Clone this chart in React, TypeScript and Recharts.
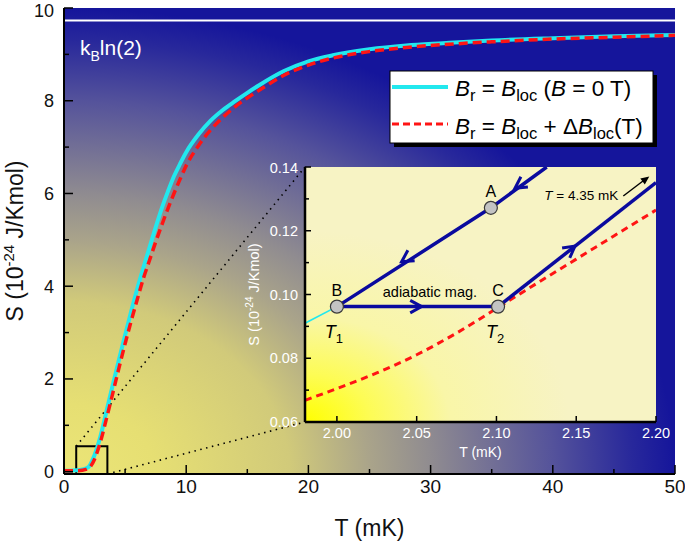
import {
  ComposedChart,
  Line,
  Scatter,
  XAxis,
  YAxis,
  CartesianGrid,
  ReferenceLine,
  ReferenceArea,
  ReferenceDot,
} from "recharts"

const FONT = '"Liberation Sans", Arial, Helvetica, sans-serif'
const CYAN = "#22e8ee"
const RED = "#ff1414"
const NAVY = "#0a0a9e"

// ---- main panel: S(T) ----
const T_MAIN = [0, 0.5, 1, 1.5, 2, 2.5, 3, 3.5, 4, 4.5, 5, 5.5, 6, 6.5, 7, 7.5, 8, 8.5, 9, 9.5, 10, 11, 12, 13, 14, 15, 16, 18, 20, 22, 25, 28, 31, 35, 40, 45, 50]
const S_ZERO_FIELD = [0.02, 0.02, 0.03, 0.05, 0.1, 0.36, 0.78, 1.33, 1.88, 2.42, 2.94, 3.46, 3.95, 4.4, 4.84, 5.27, 5.68, 6.04, 6.37, 6.64, 6.89, 7.27, 7.57, 7.8, 7.99, 8.17, 8.34, 8.64, 8.85, 8.98, 9.11, 9.19, 9.24, 9.3, 9.35, 9.39, 9.42]
const S_LOC_FIELD = [0.02, 0.02, 0.02, 0.03, 0.07, 0.27, 0.66, 1.17, 1.7, 2.24, 2.76, 3.25, 3.72, 4.17, 4.56, 4.95, 5.32, 5.67, 6.0, 6.31, 6.6, 7.03, 7.37, 7.64, 7.87, 8.06, 8.23, 8.55, 8.77, 8.92, 9.06, 9.15, 9.21, 9.27, 9.33, 9.37, 9.41]
const S_KB_LN2 = 9.73
const T_TICKS = [0, 5, 10, 15, 20, 25, 30, 35, 40, 45, 50]
const S_TICKS = [0, 1, 2, 3, 4, 5, 6, 7, 8, 9, 10]
const ZOOM_BOX_T = [1.0, 3.55]
const ZOOM_BOX_S = [-0.05, 0.55]

// ---- inset: the cooling cycle ----
const T_INSET_CYAN = [1.98, 2.0]
const S_INSET_CYAN = [0.091, 0.0962]
const T_INSET_RED = [1.98, 2.0, 2.025, 2.05, 2.075, 2.1, 2.125, 2.15, 2.175, 2.2]
const S_INSET_RED = [0.0668, 0.0705, 0.0754, 0.0811, 0.0879, 0.0956, 0.1034, 0.1111, 0.1188, 0.1265]
const T_PATH_BA = [2.0, 2.0965, 2.1315]
const S_PATH_BA = [0.0962, 0.1272, 0.14]
const T_PATH_BC = [2.0, 2.101]
const S_PATH_BC = [0.0962, 0.0962]
const T_PATH_CD = [2.101, 2.2]
const S_PATH_CD = [0.0962, 0.1351]
const POINT_NAMES = ["B", "A", "C"]
const POINT_T = [2.0, 2.0965, 2.101]
const POINT_S = [0.0962, 0.1272, 0.0962]
const POINT_SUBS = ["1", "", "2"]
const ARROW_T = [2.0406, 2.1116, 2.0531, 2.1492]
const ARROW_S = [0.1103, 0.1333, 0.0962, 0.1152]
const ARROW_DT = [-1, -1, 1, 1]
const ARROW_DS = [-0.325, -0.34, 0, 0.387]
const T_INSET_TICKS = [2.0, 2.05, 2.1, 2.15, 2.2]
const S_INSET_TICKS = [0.06, 0.07, 0.08, 0.09, 0.1, 0.11, 0.12, 0.13, 0.14]
const T_DOMAIN_INSET = [1.98, 2.2]
const S_DOMAIN_INSET = [0.06, 0.14]

// layout (pixels)
const MAIN = { left: 64, top: 8, width: 611, height: 466 }
const INSET = { left: 305, top: 167, width: 351, height: 255 }
const T_DOMAIN_MAIN = [0, 50]
const S_DOMAIN_MAIN = [-0.05, 10]

const zip = (ts: number[], ss: number[]) => ts.map((T, i) => ({ T, S: ss[i] }))

// pixel -> main data coords (for the connector lines to the inset)
const pxToMain = (px: number, py: number) => ({
  x: T_DOMAIN_MAIN[0] + ((px - MAIN.left) / MAIN.width) * (T_DOMAIN_MAIN[1] - T_DOMAIN_MAIN[0]),
  y: S_DOMAIN_MAIN[0] + ((MAIN.top + MAIN.height - py) / MAIN.height) * (S_DOMAIN_MAIN[1] - S_DOMAIN_MAIN[0]),
})
const KX = INSET.width / (T_DOMAIN_INSET[1] - T_DOMAIN_INSET[0])
const KY = INSET.height / (S_DOMAIN_INSET[1] - S_DOMAIN_INSET[0])

type Side = "bottom" | "top" | "left" | "right"
function makeTick(side: Side, o: { major: (v: number) => boolean; long: number; short: number; sw: number; fmt?: (v: number) => string; fs?: number; color?: string; gap?: number }) {
  return (props: any) => {
    const { x, y, payload } = props
    const v = payload.value
    const maj = o.major(v)
    const len = maj ? o.long : o.short
    let x2 = x
    let y2 = y
    if (side === "bottom") y2 = y - len
    if (side === "top") y2 = y + len
    if (side === "left") x2 = x + len
    if (side === "right") x2 = x - len
    let label = null
    if (o.fmt && maj) {
      const fs = o.fs || 0
      label =
        side === "bottom" ? (
          <text x={x} y={y + (o.gap || 0)} textAnchor="middle" fontSize={fs} fill={o.color} fontFamily={FONT}>
            {o.fmt(v)}
          </text>
        ) : (
          // keep the topmost label inside the page
          <text x={x - (o.gap || 0)} y={Math.max(y + fs * 0.36, fs * 0.92)} textAnchor="end" fontSize={fs} fill={o.color} fontFamily={FONT}>
            {o.fmt(v)}
          </text>
        )
    }
    return (
      <g>
        <line x1={x} y1={y} x2={x2} y2={y2} stroke="#000" strokeWidth={o.sw} />
        {label}
      </g>
    )
  }
}

const majT = (v: number) => Math.round(v) % 10 === 0
const majS = (v: number) => Math.round(v) % 2 === 0
const mainBottom = makeTick("bottom", { major: majT, long: 9, short: 5, sw: 1.5, fmt: (v) => String(v), fs: 19, color: "#111", gap: 19 })
const mainTop = makeTick("top", { major: majT, long: 9, short: 5, sw: 1.5 })
const mainLeft = makeTick("left", { major: majS, long: 9, short: 5, sw: 1.5, fmt: (v) => String(v), fs: 18, color: "#111", gap: 10 })
const mainRight = makeTick("right", { major: majS, long: 9, short: 5, sw: 1.5 })

const allMaj = () => true
const majSI = (v: number) => Math.round(v * 100) % 2 === 0
const insetBottom = makeTick("bottom", { major: allMaj, long: 6, short: 6, sw: 1.5, fmt: (v) => v.toFixed(2), fs: 14.5, color: "#fff", gap: 16 })
const insetTop = makeTick("top", { major: allMaj, long: 6, short: 6, sw: 1.5 })
const insetLeft = makeTick("left", { major: majSI, long: 6, short: 4, sw: 1.5, fmt: (v) => v.toFixed(2), fs: 14.5, color: "#fff", gap: 7 })
const insetRight = makeTick("right", { major: majSI, long: 6, short: 4, sw: 1.5 })

const PointMark = (p: any) => {
  const { cx, cy, payload } = p
  return (
    <g fontFamily={FONT}>
      <circle cx={cx} cy={cy} r={6.5} fill="#c3c3c3" stroke="#3a3a3a" strokeWidth={1.2} />
      <text x={cx} y={cy - 10.5} textAnchor="middle" fontSize={16} fill="#000">
        {payload.name}
      </text>
      {payload.sub ? (
        <text x={cx - 3} y={cy + 31.5} textAnchor="middle" fontSize={18} fill="#000" fontStyle="italic">
          T
          <tspan fontSize={13} dy={5} fontStyle="normal">
            {payload.sub}
          </tspan>
        </text>
      ) : null}
    </g>
  )
}

const Chevron = (p: any) => {
  const { cx, cy, payload } = p
  const ang = Math.atan2(-payload.dS * KY, payload.dT * KX)
  const L = 13
  const spread = 0.5
  const back = ang + Math.PI
  const w1 = [cx + L * Math.cos(back - spread), cy + L * Math.sin(back - spread)]
  const w2 = [cx + L * Math.cos(back + spread), cy + L * Math.sin(back + spread)]
  return <polyline points={`${w1[0]},${w1[1]} ${cx},${cy} ${w2[0]},${w2[1]}`} fill="none" stroke={NAVY} strokeWidth={3} strokeLinejoin="miter" />
}

export default function App() {
  const mainCyan = zip(T_MAIN, S_ZERO_FIELD)
  const mainRed = zip(T_MAIN, S_LOC_FIELD)
  const insetCyan = zip(T_INSET_CYAN, S_INSET_CYAN)
  const insetRed = zip(T_INSET_RED, S_INSET_RED)
  const pathBA = zip(T_PATH_BA, S_PATH_BA)
  const pathBC = zip(T_PATH_BC, S_PATH_BC)
  const pathCD = zip(T_PATH_CD, S_PATH_CD)
  const points = POINT_NAMES.map((name, i) => ({ name, T: POINT_T[i], S: POINT_S[i], sub: POINT_SUBS[i] }))
  const arrows = ARROW_T.map((T, i) => ({ T, S: ARROW_S[i], dT: ARROW_DT[i], dS: ARROW_DS[i] }))

  const cTop = pxToMain(INSET.left, INSET.top)
  const cBot = pxToMain(INSET.left, INSET.top + INSET.height)

  const frame = { stroke: "#000", strokeWidth: 2 }
  const iframe = { stroke: "#000", strokeWidth: 2.5 }
  const sub = 16.5

  return (
    <div style={{ position: "absolute", left: 0, top: 0, width: 685, height: 542, fontFamily: FONT, background: "#fff" }}>
      <div style={{ position: "absolute", left: 0, top: 0 }}>
        <ComposedChart width={685} height={542} margin={{ top: 8, right: 10, left: 0, bottom: 0 }}>
          <defs>
            <radialGradient id="mainBg" cx="0" cy="1" r="1" fx="0" fy="1">
              <stop offset="0" stopColor="#ebe577" />
              <stop offset="0.15" stopColor="#e6df73" />
              <stop offset="0.37" stopColor="#d1ca7a" />
              <stop offset="0.5" stopColor="#aaa48a" />
              <stop offset="0.6" stopColor="#908c90" />
              <stop offset="0.8" stopColor="#55539b" />
              <stop offset="0.93" stopColor="#28289b" />
              <stop offset="1" stopColor="#15159b" />
            </radialGradient>
          </defs>
          <CartesianGrid horizontal={false} vertical={false} fill="url(#mainBg)" />
          <XAxis type="number" dataKey="T" domain={T_DOMAIN_MAIN} ticks={T_TICKS} interval={0} height={68} tickSize={0} tickMargin={0} tickLine={false} axisLine={frame} tick={mainBottom} allowDataOverflow />
          <XAxis xAxisId="top" orientation="top" type="number" domain={T_DOMAIN_MAIN} ticks={T_TICKS} interval={0} height={0} tickSize={0} tickMargin={0} tickLine={false} axisLine={frame} tick={mainTop} allowDataOverflow />
          <YAxis type="number" dataKey="S" domain={S_DOMAIN_MAIN} ticks={S_TICKS} interval={0} width={64} tickSize={0} tickMargin={0} tickLine={false} axisLine={frame} tick={mainLeft} allowDataOverflow />
          <YAxis yAxisId="right" orientation="right" type="number" domain={S_DOMAIN_MAIN} ticks={S_TICKS} interval={0} width={0} tickSize={0} tickMargin={0} tickLine={false} axisLine={frame} tick={mainRight} allowDataOverflow />

          <ReferenceLine y={S_KB_LN2} stroke="#fff" strokeWidth={2} />
          <ReferenceLine segment={[{ x: ZOOM_BOX_T[0], y: ZOOM_BOX_S[1] }, cTop]} stroke="#000" strokeWidth={1.6} strokeDasharray="1.5 4.5" />
          <ReferenceLine segment={[{ x: ZOOM_BOX_T[1], y: ZOOM_BOX_S[0] }, cBot]} stroke="#000" strokeWidth={1.6} strokeDasharray="1.5 4.5" />

          <Line data={mainCyan} dataKey="S" type="monotone" stroke={CYAN} strokeWidth={4} dot={false} isAnimationActive={false} />
          <Line data={mainRed} dataKey="S" type="monotone" stroke={RED} strokeWidth={3.5} strokeDasharray="9 5" dot={false} isAnimationActive={false} />

          <ReferenceArea x1={ZOOM_BOX_T[0]} x2={ZOOM_BOX_T[1]} y1={ZOOM_BOX_S[0]} y2={ZOOM_BOX_S[1]} fill="none" stroke="#000" strokeWidth={2} />

          <text x={80} y={55} fontSize={21} fill="#fff" fontFamily={FONT}>
            k
            <tspan fontSize={14} dy={6}>
              B
            </tspan>
            <tspan dy={-6}>ln(2)</tspan>
          </text>

          {/* legend */}
          <rect x={394} y={75} width={263} height={72} fill="#000" />
          <rect x={390} y={71} width={263} height={72} fill="#fff" stroke="#000" strokeWidth={1} />
          <line x1={392} x2={448} y1={87} y2={87} stroke={CYAN} strokeWidth={4} />
          <line x1={392} x2={448} y1={124} y2={124} stroke={RED} strokeWidth={3} strokeDasharray="7 4" />
          <text x={455} y={96} fontSize={22.5} fill="#000" fontFamily={FONT}>
            <tspan fontStyle="italic">B</tspan>
            <tspan fontSize={sub} dy={5}>r</tspan>
            <tspan dy={-5}> = </tspan>
            <tspan fontStyle="italic">B</tspan>
            <tspan fontSize={sub} dy={5}>loc</tspan>
            <tspan dy={-5}> (</tspan>
            <tspan fontStyle="italic">B</tspan>
            <tspan> = 0 T)</tspan>
          </text>
          <text x={455} y={134} fontSize={22.5} fill="#000" fontFamily={FONT}>
            <tspan fontStyle="italic">B</tspan>
            <tspan fontSize={sub} dy={5}>r</tspan>
            <tspan dy={-5}> = </tspan>
            <tspan fontStyle="italic">B</tspan>
            <tspan fontSize={sub} dy={5}>loc</tspan>
            <tspan dy={-5}> + Δ</tspan>
            <tspan fontStyle="italic">B</tspan>
            <tspan fontSize={sub} dy={5}>loc</tspan>
            <tspan dy={-5}>(T)</tspan>
          </text>

          {/* axis titles */}
          <text x={369.5} y={536} textAnchor="middle" fontSize={23} fill="#111" fontFamily={FONT}>
            T (mK)
          </text>
          <text transform="translate(23,241) rotate(-90)" textAnchor="middle" fontSize={23} fill="#111" fontFamily={FONT}>
            S (10
            <tspan fontSize={15} dy={-9}>
              -24
            </tspan>
            <tspan dy={9}> J/Kmol)</tspan>
          </text>
        </ComposedChart>
      </div>

      <div style={{ position: "absolute", left: 241, top: 160 }}>
        <ComposedChart width={429} height={305} margin={{ top: 7, right: 14, left: 0, bottom: 0 }}>
          <defs>
            <radialGradient id="insetBg" cx="0" cy="1" r="0.75" fx="0" fy="1">
              <stop offset="0" stopColor="#ffff00" />
              <stop offset="0.25" stopColor="#fdfc55" />
              <stop offset="0.55" stopColor="#f9f6a8" />
              <stop offset="1" stopColor="#f7f3c4" />
            </radialGradient>
          </defs>
          <CartesianGrid horizontal={false} vertical={false} fill="url(#insetBg)" />
          <XAxis type="number" dataKey="T" domain={T_DOMAIN_INSET} ticks={T_INSET_TICKS} interval={0} height={43} tickSize={0} tickMargin={0} tickLine={false} axisLine={iframe} tick={insetBottom} allowDataOverflow />
          <XAxis xAxisId="top" orientation="top" type="number" domain={T_DOMAIN_INSET} ticks={T_INSET_TICKS} interval={0} height={0} tickSize={0} tickMargin={0} tickLine={false} axisLine={iframe} tick={insetTop} allowDataOverflow />
          <YAxis type="number" dataKey="S" domain={S_DOMAIN_INSET} ticks={S_INSET_TICKS} interval={0} width={64} tickSize={0} tickMargin={0} tickLine={false} axisLine={iframe} tick={insetLeft} allowDataOverflow />
          <YAxis yAxisId="right" orientation="right" type="number" domain={S_DOMAIN_INSET} ticks={S_INSET_TICKS} interval={0} width={0} tickSize={0} tickMargin={0} tickLine={false} axisLine={iframe} tick={insetRight} allowDataOverflow />

          <Line data={insetCyan} dataKey="S" type="linear" stroke={CYAN} strokeWidth={1.6} dot={false} isAnimationActive={false} />
          <Line data={insetRed} dataKey="S" type="monotone" stroke={RED} strokeWidth={3} strokeDasharray="7 5" dot={false} isAnimationActive={false} />
          <Line data={pathBA} dataKey="S" type="linear" stroke={NAVY} strokeWidth={3.5} dot={false} isAnimationActive={false} />
          <Line data={pathBC} dataKey="S" type="linear" stroke={NAVY} strokeWidth={3.5} dot={false} isAnimationActive={false} />
          <Line data={pathCD} dataKey="S" type="linear" stroke={NAVY} strokeWidth={3.5} dot={false} isAnimationActive={false} />
          <Scatter data={arrows} dataKey="S" shape={Chevron} isAnimationActive={false} />
          <Scatter data={points} dataKey="S" shape={PointMark} isAnimationActive={false} />

          <ReferenceDot
            x={2.0583}
            y={0.1009}
            r={0}
            shape={(p: any) => (
              <text x={p.cx} y={p.cy + 5} textAnchor="middle" fontSize={14.5} fill="#000" fontFamily={FONT}>
                adiabatic mag.
              </text>
            )}
          />
          <ReferenceDot
            x={2.1795}
            y={0.1309}
            r={0}
            shape={(p: any) => (
              <g fontFamily={FONT}>
                <text x={p.cx - 5} y={p.cy + 4} textAnchor="end" fontSize={13.5} fill="#000">
                  <tspan fontStyle="italic">T</tspan> = 4.35 mK
                </text>
                <line x1={p.cx} y1={p.cy} x2={p.cx + 21} y2={p.cy - 16} stroke="#000" strokeWidth={1.5} />
                <polygon points={`${p.cx + 26},${p.cy - 19.5} ${p.cx + 17},${p.cy - 17.5} ${p.cx + 21.5},${p.cy - 11.5}`} fill="#000" />
              </g>
            )}
          />

          <text x={239.5} y={297} textAnchor="middle" fontSize={14} fill="#fff" fontFamily={FONT}>
            T (mK)
          </text>
          <text transform="translate(18,134.5) rotate(-90)" textAnchor="middle" fontSize={14.5} fill="#fff" fontFamily={FONT}>
            S (10
            <tspan fontSize={10} dy={-6}>
              -24
            </tspan>
            <tspan dy={6}> J/Kmol)</tspan>
          </text>
        </ComposedChart>
      </div>
    </div>
  )
}
